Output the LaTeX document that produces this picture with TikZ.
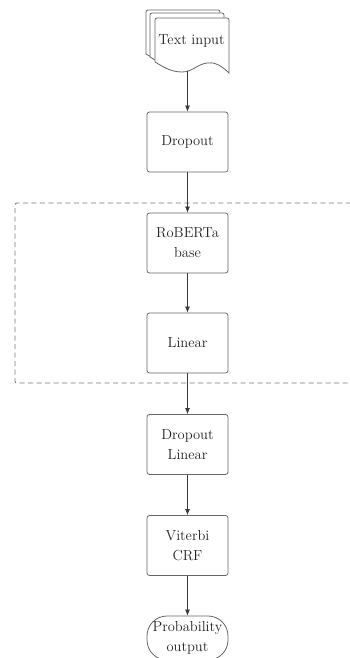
\documentclass[tikz,border=0pt]{standalone}
\usetikzlibrary{arrows.meta}
\definecolor{boxline}{HTML}{666666}
\definecolor{arrline}{HTML}{3A3A3A}
\definecolor{dashline}{HTML}{777777}
\definecolor{txt}{HTML}{222222}
\begin{document}
\begin{tikzpicture}[x=1pt,y=-1pt,
  lbl/.style={text=txt,font=\fontsize{14.5}{20}\selectfont,align=center},
  stepbox/.style={lbl,draw=boxline,line width=0.8pt,rounded corners=2.5pt,minimum width=81pt,minimum height=60pt,inner sep=0pt},
  termbox/.style={lbl,draw=boxline,line width=0.8pt,rounded corners=20pt,minimum width=81pt,minimum height=44pt,inner sep=0pt},
  arr/.style={draw=arrline,line width=0.7pt,-{Latex[length=6pt,width=5pt]}},
  docshape/.style={draw=boxline,line width=0.8pt,fill=white}
]
\useasboundingbox (0,0) rectangle (350,658);
% dashed group
\draw[dashline,line width=0.8pt,dash pattern=on 5pt off 3.5pt,rounded corners=2pt] (356,383) -- (15,383) -- (15,203) -- (356,203);
% multi-document shape
\foreach \dx/\dy in {-9/-8,-5/-5,0/0}{
  \begin{scope}[shift={(\dx,\dy)}]
  \path[docshape] (229,73) -- (229,20) [rounded corners=2pt] -- (229,18) -- (155,18) [sharp corners] -- (155,20) -- (155,62)
    .. controls (162,66) and (170,72) .. (182,72)
    .. controls (192,72) and (198,64) .. (207,63)
    .. controls (213,62) and (220,64) .. (229,73) -- cycle;
  \end{scope}
}
\node[lbl] (textin) at (191.5,41) {Text input};
\coordinate (docbot) at (187.5,71);
% boxes
\node[stepbox] (drop1) at (187.5,142) {Dropout};
\node[stepbox] (roberta) at (187.5,243) {RoBERTa\\base};
\node[stepbox] (linear) at (187.5,343) {Linear};
\node[stepbox] (droplin) at (187.5,444.5) {Dropout\\Linear};
\node[stepbox] (viterbi) at (187.5,545.5) {Viterbi\\CRF};
\node[termbox] (prob) at (187.5,638) {Probability\\output};
% connectors
\draw[arr] (docbot) -- (drop1.north);
\draw[arr] (drop1) -- (roberta);
\draw[arr] (roberta) -- (linear);
\draw[arr] (linear) -- (droplin);
\draw[arr] (droplin) -- (viterbi);
\draw[arr] (viterbi) -- (prob);
\end{tikzpicture}
\end{document}
